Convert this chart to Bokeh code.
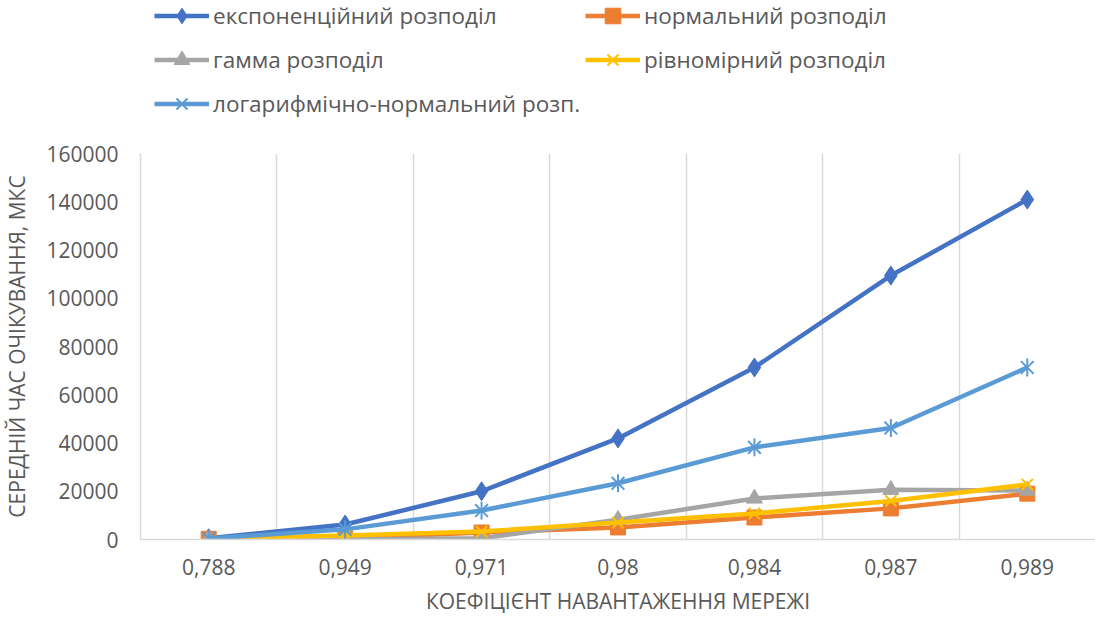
import math
from bokeh.plotting import figure
from bokeh.layouts import column
from bokeh.models import FixedTicker, Range1d, Legend, LegendItem, BasicTickFormatter, ColumnDataSource
from bokeh.embed import file_html
from bokeh.resources import INLINE

categories = ["0,788", "0,949", "0,971", "0,98", "0,984", "0,987", "0,989"]
exp_vals = [500, 6200, 20000, 41900, 71300, 109400, 140900]
norm_vals = [300, 500, 2900, 5000, 9100, 12900, 19000]
gamma_vals = [200, 0, 500, 8200, 17000, 20600, 20300]
unif_vals = [400, 1700, 3300, 7000, 10800, 16000, 22800]
logn_vals = [400, 4200, 12000, 23300, 38200, 46200, 71300]

labels = ["експоненційний розподіл", "нормальний розподіл", "гамма розподіл",
          "рівномірний розподіл", "логарифмічно-нормальний розп."]
colors = ["#4472C4", "#ED7D31", "#A5A5A5", "#FFC000", "#5B9BD5"]
y_ticks = [0, 20000, 40000, 60000, 80000, 100000, 120000, 140000, 160000]

FONT = "Open Sans"
GRAY = "#595959"
LEG_H = 138

x = list(range(len(categories)))
series = [exp_vals, norm_vals, gamma_vals, unif_vals, logn_vals]
markers = [["diamond"], ["square"], ["triangle"], ["x"], ["x", "dash"]]
sizes = [19, 15, 16, 16, 18]


def draw_series(fig, xs, ys_list):
    out = []
    for vals, col, mk, sz in zip(ys_list, colors, markers, sizes):
        src = ColumnDataSource(dict(x=xs, y=vals))
        rs = [fig.line("x", "y", source=src, line_color=col, line_width=4.5)]
        for m in mk:
            ang = math.pi / 2 if m == "dash" else 0
            lw = 2 if m in ("x", "dash") else 1
            rs.append(fig.scatter("x", "y", source=src, marker=m, size=sz, angle=ang,
                                  fill_color=col, line_color=col, line_width=lw))
        out.append(rs)
    return out


# ---- main chart ----
p = figure(width=1095, height=617 - LEG_H, output_backend="svg", toolbar_location=None,
           x_range=Range1d(-0.5, len(categories) - 0.5), y_range=Range1d(0, 160000),
           min_border_left=0, min_border_right=0, min_border_top=15, min_border_bottom=78)
p.outline_line_color = None
draw_series(p, x, series)

p.xaxis.ticker = FixedTicker(ticks=x)
p.xaxis.major_label_overrides = {i: c for i, c in enumerate(categories)}
p.xaxis.axis_line_color = "#D9D9D9"
p.xaxis.axis_line_width = 1.5
p.xaxis.major_tick_line_color = None
p.xaxis.minor_tick_line_color = None
p.xaxis.major_label_standoff = 13
p.xaxis.major_label_text_font = FONT
p.xaxis.major_label_text_font_size = "21px"
p.xaxis.major_label_text_color = GRAY
p.xaxis.axis_label = "КОЕФІЦІЄНТ НАВАНТАЖЕННЯ МЕРЕЖІ"
p.xaxis.axis_label_text_font = FONT
p.xaxis.axis_label_text_font_size = "21px"
p.xaxis.axis_label_text_font_style = "normal"
p.xaxis.axis_label_text_color = GRAY
p.xaxis.axis_label_standoff = 9

p.yaxis.ticker = FixedTicker(ticks=y_ticks)
p.yaxis.formatter = BasicTickFormatter(use_scientific=False)
p.yaxis.axis_line_color = "#D9D9D9"
p.yaxis.axis_line_width = 1.5
p.yaxis.major_tick_line_color = None
p.yaxis.minor_tick_line_color = None
p.yaxis.major_label_standoff = 16
p.yaxis.major_label_text_font = FONT
p.yaxis.major_label_text_font_size = "21px"
p.yaxis.major_label_text_color = GRAY
p.yaxis.axis_label = "СЕРЕДНІЙ ЧАС ОЧІКУВАННЯ, МКС"
p.yaxis.axis_label_text_font = FONT
p.yaxis.axis_label_text_font_size = "21px"
p.yaxis.axis_label_text_font_style = "normal"
p.yaxis.axis_label_text_color = GRAY
p.yaxis.axis_label_standoff = 12

p.xgrid.ticker = FixedTicker(ticks=[i + 0.5 for i in range(len(categories) - 1)])
p.xgrid.grid_line_color = "#D9D9D9"
p.xgrid.grid_line_width = 1.5
p.ygrid.grid_line_color = None

# ---- legend strip (its data lies outside its own view, only the legend shows) ----
lf = figure(width=1095, height=LEG_H, output_backend="svg", toolbar_location=None,
            x_range=Range1d(100, 101), y_range=Range1d(-10, -9),
            x_axis_location=None, y_axis_location=None,
            min_border=0)
lf.outline_line_color = None
lf.xgrid.visible = False
lf.ygrid.visible = False
rs_list = draw_series(lf, x, series)
items = [LegendItem(label=lab, renderers=rs) for lab, rs in zip(labels, rs_list)]
legend = Legend(items=items, orientation="horizontal", ncols=2, location=(14, LEG_H - 127 + 4),
                padding=0, margin=0, spacing=5, glyph_width=55, glyph_height=39,
                label_height=39, label_standoff=4, border_line_alpha=0,
                background_fill_alpha=0, label_text_font=FONT,
                label_text_font_size="22.5px", label_text_color=GRAY)
lf.add_layout(legend, "center")

layout = column(lf, p, spacing=0)
open("out.html", "w").write(file_html(layout, INLINE))
